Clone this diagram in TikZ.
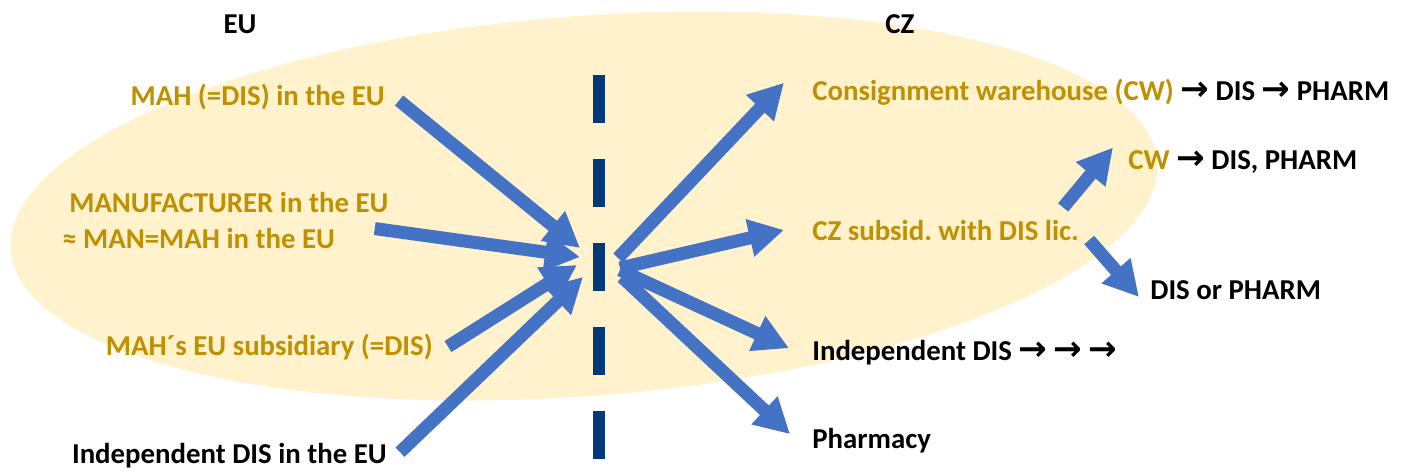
\documentclass[tikz,border=0pt]{standalone}
\usepackage{fontspec}
\setmainfont{Carlito}
\newfontfamily\arrowfont{DejaVu Sans}
\usetikzlibrary{arrows.meta}

\newcommand{\thenarrow}{{\arrowfont\bfseries\fontsize{19.5}{20}\selectfont →}}
\frenchspacing

\begin{document}
\begin{tikzpicture}[x = 0.02cm, y = -0.02cm,
        every node/.style = {font = \fontsize{16.4}{20}\selectfont\bfseries, inner sep = 0pt},
        goldText/.style = {text = goldColor},
        flowArrow/.style = {draw = arrowColor, line width = 0.26cm, -{Triangle[length = 0.7cm, width = 0.72cm]}}]
            % \draw [help lines, step = 50] (0,0) grid (1411,471);
            \useasboundingbox (0,0) rectangle (1411,471);

            \definecolor{fillColor}{RGB}{255,242,204};
            \definecolor{goldColor}{RGB}{191,144,0};
            \definecolor{arrowColor}{RGB}{68,114,196};
            \definecolor{divColor}{RGB}{3,56,122};

            \path [fill = fillColor, rotate around = {4.4:(584,206)}] (584,206) ellipse [x radius = 11.5cm, y radius = 3.8cm];

            \draw [divColor, line width = 0.24cm, dash pattern = on 0.96cm off 0.72cm] (599,75) -- (599,459);

            \node [anchor = base] (euHead) at (240,33) {EU};
            \node [anchor = base] (czHead) at (900,33) {CZ};

            % EU side
            \node [goldText, anchor = base east] (mah) at (385,105) {MAH (=DIS) in the EU};
            \node [goldText, anchor = base west] (manu) at (69,212) {MANUFACTURER in the EU};
            \node [goldText, anchor = base west] (manuAlt) at (62,248) {≈ MAN=MAH in the EU};
            \node [goldText, anchor = base east] (subs) at (433,355) {MAH´s EU subsidiary (=DIS)};
            \node [anchor = base east] (indepEU) at (387,463) {Independent DIS in the EU};

            % CZ side
            \node [goldText, anchor = base west] (cw) at (812,100) {Consignment warehouse (CW) \textcolor{black}{\thenarrow{} DIS \thenarrow{} PHARM}};
            \node [goldText, anchor = base west] (cwNext) at (1128,169) {CW \textcolor{black}{\thenarrow{} DIS, PHARM}};
            \node [goldText, anchor = base west] (czSub) at (812,240) {CZ subsid. with DIS lic.};
            \node [anchor = base west] (disPharm) at (1150,299) {DIS or PHARM};
            \node [anchor = base west] (indepCZ) at (812,360) {Independent DIS \thenarrow{} \thenarrow{} \thenarrow};
            \node [anchor = base west] (pharmacy) at (812,448) {Pharmacy};

            \coordinate (hubIn1) at (580,248);
            \coordinate (hubIn2) at (580,257);
            \coordinate (hubIn3) at (577,265);
            \coordinate (hubIn4) at (583,277);
            \coordinate (hubOut1) at (618,258);
            \coordinate (hubOut2) at (620,268);
            \coordinate (hubOut3) at (620,270);
            \coordinate (hubOut4) at (622,277);

            \draw [flowArrow] ([shift = {(0.28cm,-0.08cm)}]mah.east) -- (hubIn1);
            \draw [flowArrow] ([shift = {(-0.28cm,-0.32cm)}]manu.south east) -- (hubIn2);
            \draw [flowArrow] ([xshift = 0.3cm]subs.east) -- (hubIn3);
            \draw [flowArrow] ([shift = {(0.26cm,0.06cm)}]indepEU.east) -- (hubIn4);

            \draw [flowArrow] (hubOut1) -- ([shift = {(-0.56cm,0.18cm)}]cw.west);
            \draw [flowArrow] (hubOut2) -- ([xshift = -0.56cm]czSub.west);
            \draw [flowArrow] (hubOut3) -- ([shift = {(-0.46cm,0.08cm)}]indepCZ.west);
            \draw [flowArrow] (hubOut4) -- ([shift = {(-0.44cm,0.12cm)}]pharmacy.west);

            \draw [flowArrow] ([shift = {(-0.32cm,0.24cm)}]czSub.north east) -- ([shift = {(-0.3cm,0.28cm)}]cwNext.west);
            \draw [flowArrow] ([xshift = 0.2cm]czSub.base east) -- ([shift = {(-0.22cm,0.04cm)}]disPharm.base west);

        \end{tikzpicture}
\end{document}
